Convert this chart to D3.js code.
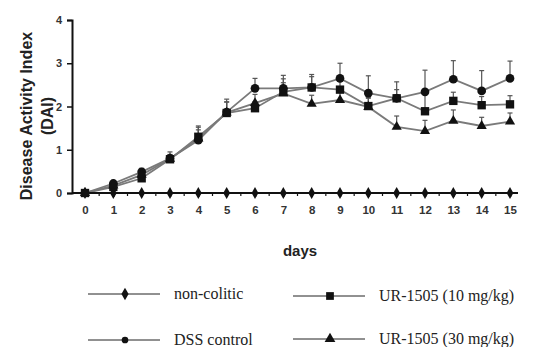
<!doctype html>
<html lang="en">
<head>
<meta charset="utf-8">
<title>DAI</title>
<style>
body{margin:0;background:#fff;}
svg{display:block;}
</style>
</head>
<body>
<script src="https://cdn.jsdelivr.net/npm/d3@7/dist/d3.min.js"></script>
<script>

var days = [0,1,2,3,4,5,6,7,8,9,10,11,12,13,14,15];
var yTicks = [0,1,2,3,4];

var nonColitic = [0,0,0,0,0,0,0,0,0,0,0,0,0,0,0,0];
var dssControl = [0,0.22,0.49,0.80,1.22,1.87,2.42,2.42,2.44,2.65,2.31,2.19,2.34,2.63,2.36,2.65];
var dssErr     = [0,0.05,0.08,0.15,0.30,0.30,0.23,0.30,0.30,0.35,0.40,0.38,0.50,0.43,0.47,0.40];
var ur10       = [0,0.14,0.34,0.78,1.30,1.85,1.96,2.34,2.44,2.39,2.01,2.19,1.89,2.13,2.03,2.05];
var ur10Err    = [0,0.05,0.06,0.10,0.25,0.25,0.15,0.30,0.25,0.20,0.20,0.20,0.40,0.20,0.20,0.20];
var ur30       = [0,0.17,0.42,0.79,1.26,1.86,2.08,2.30,2.06,2.15,1.99,1.53,1.43,1.67,1.55,1.65];
var ur30Err    = [0,0.05,0.06,0.10,0.20,0.25,0.20,0.25,0.20,0.25,0.20,0.25,0.25,0.25,0.20,0.20];

var width = 542, height = 347;
var margin = {top:20, left:72};

var svg = d3.select("body").append("svg")
    .attr("width", width)
    .attr("height", height);

var x = d3.scaleLinear().domain([0,15]).range([85,510]);
var y = d3.scaleLinear().domain([0,4]).range([193,20]);

var lineGray = "#7a7a7a";
var sans = "'Liberation Sans', Arial, sans-serif";
var narrow = "'Liberation Sans Narrow', 'Liberation Sans', Arial, sans-serif";

// axes
var yAxis = d3.axisLeft(y).tickValues(yTicks).tickSize(5).tickPadding(5).tickFormat(d3.format("d"));
var gy = svg.append("g").attr("transform","translate(" + margin.left + ",0)").call(yAxis);
gy.select(".domain").attr("stroke","#111").attr("stroke-width",2);
gy.selectAll(".tick line").attr("stroke","#111").attr("stroke-width",1.5);
gy.selectAll(".tick text").attr("font-family",narrow)
  .attr("font-weight","bold").attr("font-size",11).attr("fill","#333");

var xAxis = d3.axisBottom(x).tickValues(days).tickSize(4).tickPadding(9).tickSizeOuter(0);
var gx = svg.append("g").attr("transform","translate(0," + y(0) + ")").call(xAxis);
gx.select(".domain").attr("d","M" + margin.left + ",0H518").attr("stroke","#111").attr("stroke-width",2);
gx.selectAll(".tick line").attr("stroke","#111").attr("stroke-width",1.5);
gx.selectAll(".tick text").attr("font-family",narrow)
  .attr("font-weight","bold").attr("font-size",11.5).attr("fill","#333");

// minor ticks between days
gx.selectAll(".minor").data(days.slice(0,-1)).enter().append("line")
  .attr("x1", function(d){ return x(d+0.5); })
  .attr("x2", function(d){ return x(d+0.5); })
  .attr("y1", 0).attr("y2", 3)
  .attr("stroke","#111").attr("stroke-width",1.2);

// axis titles
svg.append("text").attr("transform","translate(32,116) rotate(-90)")
  .attr("text-anchor","middle")
  .attr("font-family",sans)
  .attr("font-weight","bold").attr("font-size",16).attr("fill","#222")
  .text("Disease Activity Index");
svg.append("text").attr("transform","translate(53,116) rotate(-90)")
  .attr("text-anchor","middle")
  .attr("font-family",sans)
  .attr("font-weight","bold").attr("font-size",16).attr("fill","#222")
  .text("(DAI)");
svg.append("text").attr("x",300).attr("y",256)
  .attr("text-anchor","middle")
  .attr("font-family",sans)
  .attr("font-weight","bold").attr("font-size",15).attr("fill","#222")
  .text("days");

var series = [
  {name:"DSS control", values:dssControl, err:dssErr, shape:d3.symbolCircle, size:60},
  {name:"UR-1505 (10 mg/kg)", values:ur10, err:ur10Err, shape:d3.symbolSquare, size:70},
  {name:"UR-1505 (30 mg/kg)", values:ur30, err:ur30Err, shape:d3.symbolTriangle, size:45}
];

var line = d3.line()
  .x(function(d,i){ return x(days[i]); })
  .y(function(d){ return y(d); });

// error bars (upward only)
series.forEach(function(s){
  var g = svg.append("g");
  g.selectAll("line.eb").data(s.values).enter().append("line")
    .attr("x1", function(d,i){ return x(days[i]); })
    .attr("x2", function(d,i){ return x(days[i]); })
    .attr("y1", function(d){ return y(d); })
    .attr("y2", function(d,i){ return y(d + s.err[i]); })
    .attr("stroke", "#555").attr("stroke-width",1.2);
  g.selectAll("line.cap").data(s.values).enter().append("line")
    .attr("x1", function(d,i){ return x(days[i]) - 2.5; })
    .attr("x2", function(d,i){ return x(days[i]) + 2.5; })
    .attr("y1", function(d,i){ return y(d + s.err[i]); })
    .attr("y2", function(d,i){ return y(d + s.err[i]); })
    .attr("stroke", "#555").attr("stroke-width",1.2);
});

// lines
series.forEach(function(s){
  svg.append("path").datum(s.values)
    .attr("d", line)
    .attr("fill","none").attr("stroke",lineGray).attr("stroke-width",1.8);
});

// non-colitic line + diamonds
svg.append("path").datum(nonColitic).attr("d", line)
  .attr("fill","none").attr("stroke","#111").attr("stroke-width",2);

series.forEach(function(s){
  svg.append("g").selectAll("path").data(s.values).enter().append("path")
    .attr("d", d3.symbol().type(s.shape).size(s.size))
    .attr("transform", function(d,i){ return "translate(" + x(days[i]) + "," + y(d) + ")"; })
    .attr("fill","#111");
});

svg.append("g").selectAll("path").data(nonColitic).enter().append("path")
  .attr("d", d3.symbol().type(d3.symbolDiamond).size(40))
  .attr("transform", function(d,i){ return "translate(" + x(days[i]) + "," + y(d) + ")"; })
  .attr("fill","#111");

// legend
var legendItems = [
  {name:"non-colitic", shape:d3.symbolDiamond, size:45, lx:88, ly:294},
  {name:"UR-1505 (10 mg/kg)", shape:d3.symbolSquare, size:60, lx:293, ly:296},
  {name:"DSS control", shape:d3.symbolCircle, size:35, lx:88, ly:340},
  {name:"UR-1505 (30 mg/kg)", shape:d3.symbolTriangle, size:50, lx:293, ly:339}
];
var lg = svg.append("g").selectAll("g").data(legendItems).enter().append("g")
  .attr("transform", function(d){ return "translate(" + d.lx + "," + d.ly + ")"; });
lg.append("line").attr("x1",0).attr("x2",72).attr("y1",0).attr("y2",0)
  .attr("stroke","#222").attr("stroke-width",1);
lg.append("path").attr("d", function(d){ return d3.symbol().type(d.shape).size(d.size)(); })
  .attr("transform","translate(37,0)").attr("fill","#111");
lg.append("text").attr("x",86).attr("y",5)
  .attr("font-family","'Liberation Serif', 'Times New Roman', serif")
  .attr("font-size",16).attr("fill","#222")
  .text(function(d){ return d.name; });

</script>
</body>
</html>
